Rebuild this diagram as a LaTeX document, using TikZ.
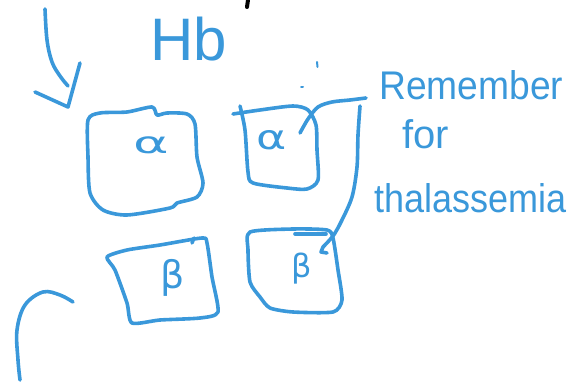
\documentclass[tikz,border=0pt]{standalone}
\usepackage{fontspec}
\setmainfont{Liberation Sans}
\newfontfamily\gkfont{DejaVu Sans}
\definecolor{skblue}{HTML}{3A98DA}
\begin{document}
\begin{tikzpicture}[x=1pt,y=-1pt,
  sketch/.style={draw=skblue, line width=3.6pt, line cap=round, line join=round},
  lbl/.style={text=skblue, inner sep=0pt, anchor=base west},
  glyph/.style={text=skblue, inner sep=0pt}]
\useasboundingbox (0,0) rectangle (575,385);
% black mark at top
\draw[line width=4pt, line cap=round] (248,0) -- (247,7);
% left arrow
\draw[sketch] plot[smooth, tension=0.6] coordinates {(45,9) (47,40) (52,62) (60,76) (68,86)};
\draw[sketch] (80,63) -- (68,107) -- (35,92);
% Hb
\node[lbl, font=\fontsize{60}{60}\selectfont] (hb) at (150,61) {Hb};
% dots
\draw[sketch, line width=2pt] (317,62) -- (317.5,67);
\draw[sketch, line width=2pt] (301,87) -- (303,87);
% Remember for thalassemia
\node[lbl, font=\fontsize{40}{40}\selectfont, xscale=0.93] (rem) at (379,100) {Remember};
\node[lbl, font=\fontsize{40}{40}\selectfont] (for) at (402,148) {for};
\node[lbl, font=\fontsize{40}{40}\selectfont, xscale=0.9] (tha) at (374,212) {thalassemia};
% box alpha top-left
\draw[sketch] plot[smooth cycle, tension=0.45] coordinates {
 (88,120) (100,113) (127,112) (152,107) (157,115) (167,113) (187,114)
 (195,124) (197,157) (203,183) (197,197) (177,203) (170,208) (127,215)
 (103,210) (90,193) (88,157)};
\node[glyph, font=\gkfont\fontsize{30}{30}\selectfont, xscale=1.8] (a1) at (151,145) {α};
% box alpha top-right
\draw[sketch] plot[smooth, tension=0.45] coordinates {
 (233,114) (260,110) (293,106) (308,110) (316,125) (317,150) (318,180)
 (307,189) (287,188) (253,183) (248,172) (245,130) (240,106)};
\node[glyph, font=\gkfont\fontsize{34}{34}\selectfont, xscale=1.35] (a2) at (272,140) {α};
% box beta bottom-left
\draw[sketch] plot[smooth cycle, tension=0.4] coordinates {
 (107,257) (127,250) (160,245) (202,238) (207,243) (212,277) (218,312)
 (200,318) (160,320) (132,323) (127,303) (115,270)};
\draw[sketch] (192,243) -- (194,238);
\node[glyph, font=\gkfont\fontsize{38}{38}\selectfont] (b1) at (173,278) {β};
% box beta bottom-right
\draw[sketch] plot[smooth cycle, tension=0.4] coordinates {
 (250,232) (293,229) (327,230) (333,238) (338,270) (342,300) (333,312)
 (293,312) (270,308) (260,297) (250,282) (248,250)};
\draw[sketch] (295,234) -- (326,234);
\node[glyph, font=\gkfont\fontsize{32}{32}\selectfont] (b2) at (302,269) {β};
% connector
\coordinate (cs) at (300,133);
\coordinate (ce) at (323,247);
\draw[sketch] plot[smooth, tension=0.5] coordinates {
 (cs) (308,119) (318,107) (332,102) (350,100) (366,98)};
\draw[sketch] plot[smooth, tension=0.5] coordinates {
 (360,106) (358,135) (357,167) (352,197) (341,222) (333,236) (ce)};
\draw[sketch] (ce) -- (321,252) -- (327,253);
% bottom-left arc
\draw[sketch] plot[smooth, tension=0.6] coordinates {(73,302) (60,295) (43,292) (25,305) (17,330) (18,360) (20,380)};
\end{tikzpicture}
\end{document}
